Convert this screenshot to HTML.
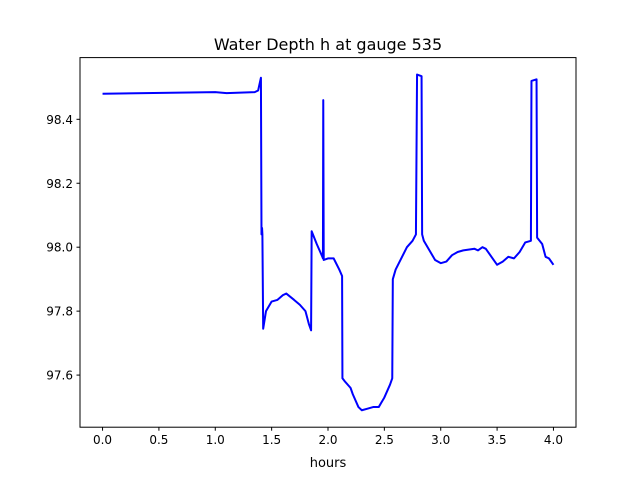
<!DOCTYPE html>
<html><head><meta charset="utf-8"><style>
body{margin:0;background:#fff}
svg{display:block;font-family:"DejaVu Sans","Liberation Sans",sans-serif}
</style></head><body>
<svg id="chart" width="640" height="480">
<rect width="640" height="480" fill="#fff"/>
<text x="328" y="50" text-anchor="middle" font-size="16">Water Depth h at gauge 535</text>
<g id="plot"></g>
<rect x="80" y="57.6" width="496" height="369.6" fill="none" stroke="#000" stroke-width="1"/>
<text x="328" y="467" text-anchor="middle" font-size="13">hours</text>
</svg>
<script>
const hours=[0,1,1.1,1.35,1.38,1.405,1.41,1.415,1.418,1.425,1.45,1.5,1.55,1.6,1.63,1.7,1.75,1.8,1.83,1.85,1.855,1.9,1.95,1.955,1.958,1.962,2.0,2.05,2.1,2.125,2.128,2.15,2.2,2.22,2.27,2.3,2.35,2.4,2.45,2.5,2.55,2.57,2.575,2.6,2.7,2.75,2.78,2.79,2.83,2.835,2.85,2.9,2.95,3.0,3.05,3.1,3.15,3.2,3.3,3.33,3.37,3.4,3.45,3.5,3.55,3.6,3.65,3.7,3.75,3.8,3.805,3.85,3.855,3.9,3.93,3.96,4.0];
const depth=[98.48,98.485,98.482,98.485,98.49,98.53,98.04,98.06,98.04,97.745,97.80,97.83,97.835,97.85,97.855,97.835,97.82,97.80,97.76,97.74,98.05,98.01,97.97,97.965,98.46,97.96,97.965,97.965,97.93,97.91,97.59,97.58,97.56,97.54,97.50,97.49,97.495,97.50,97.50,97.53,97.57,97.59,97.90,97.93,98.00,98.02,98.04,98.54,98.535,98.04,98.02,97.99,97.96,97.95,97.955,97.975,97.985,97.99,97.995,97.99,98.00,97.995,97.97,97.945,97.955,97.97,97.965,97.985,98.015,98.02,98.52,98.525,98.03,98.01,97.97,97.965,97.945];
const xTicks=[0,0.5,1,1.5,2,2.5,3,3.5,4];
const xTickLabels=["0.0","0.5","1.0","1.5","2.0","2.5","3.0","3.5","4.0"];
const yTicks=[97.6,97.8,98.0,98.2,98.4];
const yTickLabels=["97.6","97.8","98.0","98.2","98.4"];
const X0=80,X1=576,Y0=427.2,Y1=57.6,xmin=-0.2,xmax=4.2,ymin=97.437,ymax=98.593;
const sx=v=>X0+(v-xmin)/(xmax-xmin)*(X1-X0);
const sy=v=>Y0-(v-ymin)/(ymax-ymin)*(Y0-Y1);
const NS="http://www.w3.org/2000/svg";
const g=document.getElementById('plot');
function mk(t,a){const e=document.createElementNS(NS,t);for(const k in a)e.setAttribute(k,a[k]);g.appendChild(e);return e;}
xTicks.forEach((v,i)=>{
  const l=mk('line',{x1:sx(v),x2:sx(v),y1:Y0,y2:Y0+3.5,stroke:'#000'});
  
  
  const t=mk('text',{x:sx(v),y:Y0+17,'text-anchor':'middle','font-size':'12'});
  
  
  t.textContent=xTickLabels[i];
});
yTicks.forEach((v,i)=>{
  const l=mk('line',{x1:X0-3.5,x2:X0,y1:sy(v),y2:sy(v),stroke:'#000'});
  
  
  const t=mk('text',{x:X0-7,y:sy(v)+4.5,'text-anchor':'end','font-size':'12'});
  
  
  t.textContent=yTickLabels[i];
});
const p=mk('polyline',{points:hours.map((h,i)=>sx(h)+','+sy(depth[i])).join(' '),fill:'none',stroke:'#0000ff','stroke-width':'2','stroke-linejoin':'round'});


</script>
</body></html>
